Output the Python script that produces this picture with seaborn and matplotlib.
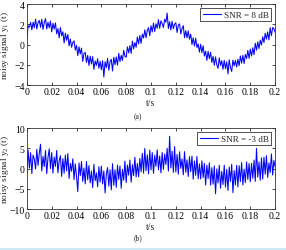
import numpy as np
import pandas as pd
import matplotlib
matplotlib.use("Agg")
import matplotlib.pyplot as plt
import seaborn as sns
from matplotlib.lines import Line2D

# ---- data ----
t = [round(k * 0.001, 3) for k in range(201)]

y1 = [0.56, 1.84, 1.72, 2.19, 1.45, 2.21, 1.66, 2.50, 1.54, 2.16,
      2.38, 1.70, 2.50, 1.50, 2.18, 2.56, 1.54, 2.20, 1.66, 2.31,
      1.25, 2.09, 1.52, 2.14, 1.06, 1.57, 0.67, 1.68, 0.87, 1.26,
      0.15, 1.13, 0.42, 1.00, -0.13, 0.55, -0.27, 0.20, 0.37, -0.55,
      -0.07, -1.10, -0.22, -0.93, -0.35, -1.66, -0.87, -0.78, -1.77, -1.07,
      -2.06, -1.14, -1.92, -1.19, -2.45, -1.61, -2.06, -1.40, -2.34, -1.66,
      -2.48, -1.60, -3.20, -1.70, -2.28, -1.36, -2.54, -1.70, -1.46, -2.61,
      -1.25, -1.99, -1.22, -2.04, -0.86, -1.67, -1.07, -1.58, -0.57, -1.16,
      -1.25, -0.23, -0.82, -0.10, -0.87, 0.35, -0.43, 0.20, -0.27, 0.75,
      0.07, 0.90, 0.12, 1.03, 0.65, 1.46, 0.67, 1.38, 1.67, 0.87,
      1.86, 1.24, 2.12, 1.29, 2.05, 1.61, 2.46, 1.60, 2.34, 2.06,
      1.68, 2.50, 2.20, 3.10, 1.58, 2.26, 1.44, 2.30, 1.56, 2.01,
      2.15, 1.19, 1.92, 2.04, 1.06, 1.57, 1.87, 0.68, 1.37, 0.66,
      1.35, 0.53, 1.02, 0.00, 0.67, -0.15, 0.63, -0.30, 0.07, -0.75,
      0.03, -0.80, -0.12, -1.13, -0.65, -1.56, -0.67, -1.38, -0.77, -1.77,
      -1.16, -2.04, -1.22, -1.99, -2.35, -1.31, -2.06, -1.60, -2.44, -1.56,
      -2.38, -1.70, -2.90, -1.50, -2.28, -2.66, -1.54, -2.10, -1.56, -2.21,
      -1.45, -2.09, -1.12, -1.84, -1.06, -1.87, -0.97, -1.38, -0.57, -1.36,
      -0.45, -1.13, -0.32, -1.00, 0.13, -0.55, 0.27, -0.40, 0.43, -0.05,
      0.77, 0.20, 1.12, 0.53, 1.25, 0.46, 1.67, 0.88, 1.67, 1.57,
      1.20]

y2 = [-1.04, 4.54, 0.12, 3.89, -1.25, 3.31, 2.36, -0.10, 4.74, 0.76,
      3.78, 6.00, -0.60, 3.00, 0.48, 4.46, -1.26, 2.70, 4.86, 0.01,
      3.95, -1.11, 2.82, 0.54, 4.46, -1.03, 1.87, 3.18, -1.93, 2.46,
      -1.15, 3.33, -0.58, 3.70, -2.43, 1.25, -0.67, 2.40, -2.73, 1.15,
      -1.97, -5.70, 1.38, -1.73, 1.75, -3.16, 0.13, -3.78, 1.73, -2.77,
      0.74, -3.54, -0.62, -4.69, 1.05, -3.01, -1.06, -4.50, 0.46, -3.36,
      0.62, -3.80, -0.60, -6.00, -1.38, 0.24, -4.34, -0.30, -5.26, 1.19,
      -4.15, -0.29, -4.62, 0.86, -2.66, 0.63, -4.87, -0.18, -2.87, 1.84,
      -3.45, 0.87, -1.62, 2.10, -3.37, 0.95, -1.73, 2.80, -2.07, 1.25,
      -2.03, 2.50, -0.78, 3.73, -1.15, 4.96, -0.53, 3.38, -1.33, 4.57,
      -0.34, 3.94, -1.18, 3.29, 0.55, 4.61, -0.34, 3.10, -1.06, 3.96,
      -0.22, 3.60, 1.00, 5.00, -0.62, 7.96, 0.14, 4.30, -0.94, 5.41,
      -0.85, 3.49, -1.38, 4.14, 0.06, 2.37, -1.53, 4.18, -0.93, 2.16,
      -1.95, 2.93, -0.78, 3.10, -2.63, 1.85, -1.67, 3.00, -2.53, 1.15,
      -2.57, 1.90, -2.22, 1.27, -4.05, 0.84, -2.47, 1.42, -4.07, 0.23,
      -3.86, 0.66, -6.22, -0.09, -3.55, 0.79, -4.86, -0.70, -3.94, 0.84,
      -4.58, -0.20, -5.40, 0.40, -3.18, 1.04, -5.94, -0.50, -4.06, 0.79,
      -4.55, 0.71, -3.22, 1.46, -4.06, -0.17, -3.47, 1.62, -2.67, 1.24,
      -3.25, 1.27, -2.42, 2.10, -3.17, 4.95, -2.13, 1.60, -2.87, 2.65,
      -2.60, 2.80, -1.40, 3.20, -2.20, 1.40, -1.00, 3.60, -1.60, 2.00,
      0.40]

x_ticks = [0, 0.02, 0.04, 0.06, 0.08, 0.1, 0.12, 0.14, 0.16, 0.18, 0.2]
x_ticklabels = ["0", "0.02", "0.04", "0.06", "0.08", "0.1", "0.12", "0.14", "0.16", "0.18", "0.2"]
y1_ticks = [-4, -2, 0, 2, 4]
y2_ticks = [-10, -5, 0, 5, 10]
labels = ["SNR = 8 dB", "SNR = -3 dB"]
ylabels = [r"noisy signal y$_1$ (t)", r"noisy signal y$_2$ (t)"]
captions = ["(a)", "(b)"]

df1 = pd.DataFrame({"t": t, "y": y1})
df2 = pd.DataFrame({"t": t, "y": y2})

# ---- style ----
sns.set_theme(style="ticks")
plt.rcParams["font.family"] = ["Liberation Serif", "DejaVu Serif"]
plt.rcParams["mathtext.fontset"] = "custom"
plt.rcParams["mathtext.rm"] = "Liberation Serif"
plt.rcParams["mathtext.it"] = "Liberation Serif"
plt.rcParams["xtick.direction"] = "in"
plt.rcParams["ytick.direction"] = "in"

fig = plt.figure(figsize=(2.86, 2.51), dpi=100)
ax1 = fig.add_axes([0.094, 0.657, 0.868, 0.323])
ax2 = fig.add_axes([0.094, 0.163, 0.868, 0.323])

line_color = "#0000ff"
fs = 7.0

for ax, df, lab, yl, yt in [(ax1, df1, labels[0], ylabels[0], y1_ticks),
                            (ax2, df2, labels[1], ylabels[1], y2_ticks)]:
    sns.lineplot(data=df, x="t", y="y", ax=ax, color=line_color, linewidth=0.75, label=lab)
    ax.set_xlim(0, 0.2)
    ax.set_ylim(yt[0], yt[-1])
    ax.set_xticks(x_ticks)
    ax.set_xticklabels(x_ticklabels)
    ax.set_yticks(yt)
    ax.tick_params(axis="both", labelsize=fs, length=2.5, width=0.5, pad=1.5,
                   top=True, right=True, colors="black")
    for s in ax.spines.values():
        s.set_linewidth(0.6)
        s.set_color("#333333")
        s.set_visible(True)
    ax.set_xlabel("t/s", fontsize=fs, labelpad=1)
    ax.set_ylabel(yl, fontsize=6.8)
    ax.yaxis.set_label_coords(-0.064, 0.5)
    leg = ax.legend(loc="upper right", fontsize=6.6, frameon=True, fancybox=False,
                    borderpad=0.25, handlelength=2.0, handletextpad=0.3,
                    borderaxespad=0.45, framealpha=1)
    leg.get_frame().set_edgecolor("#333333")
    leg.get_frame().set_linewidth(0.6)
    for h in leg.get_lines():
        h.set_linewidth(0.8)

fig.text(138 / 286, 1 - 117 / 251, captions[0], fontsize=5.5, ha="center", va="center")
fig.text(138 / 286, 1 - 238 / 251, captions[1], fontsize=5.5, ha="center", va="center")
fig.add_artist(Line2D([0, 1], [1 - 249.5 / 251] * 2, transform=fig.transFigure,
                      color="#cce8f4", linewidth=1.5))

fig.savefig("out.png", dpi=100)
